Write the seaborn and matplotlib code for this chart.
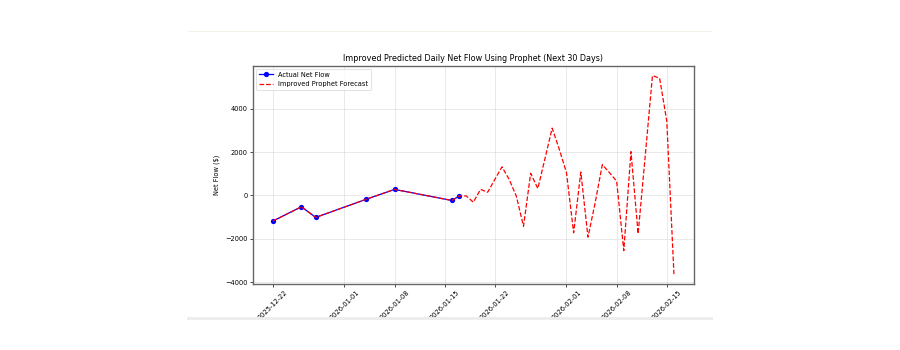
import matplotlib
matplotlib.use("Agg")
import matplotlib.pyplot as plt
import matplotlib.patches as mpatches
import matplotlib.lines as mlines
import seaborn as sns
import pandas as pd

# ---- data ----
actual_dates = ["2025-12-22", "2025-12-26", "2025-12-28", "2026-01-04",
                "2026-01-08", "2026-01-16", "2026-01-17"]
actual_values = [-1180, -520, -1010, -180, 280, -230, -30]

future_dates = pd.date_range("2026-01-18", periods=30, freq="D").strftime("%Y-%m-%d").tolist()
future_values = [-20, -310, 280, 150, 740, 1320, 740, -30, -1420, 1020,
                 320, 1700, 3100, 2120, 1050, -1720, 1080, -1920, -340, 1420,
                 1050, 660, -2540, 2020, -1760, 1850, 5520, 5400, 3430, -3620]

forecast_dates = actual_dates + future_dates
forecast_values = actual_values + future_values

title = "Improved Predicted Daily Net Flow Using Prophet (Next 30 Days)"
ylabel = "Net Flow ($)"
label_actual = "Actual Net Flow"
label_forecast = "Improved Prophet Forecast"

df_actual = pd.DataFrame({"ds": pd.to_datetime(actual_dates), "y": actual_values})
df_fc = pd.DataFrame({"ds": pd.to_datetime(forecast_dates), "yhat": forecast_values})

# ---- figure ----
fig = plt.figure(figsize=(9, 3.5), dpi=100)
ax = fig.add_axes([252.7 / 900, 1 - 284 / 350, (694 - 252.7) / 900, (284 - 65.7) / 350])

fs = 4.75
sns.lineplot(data=df_actual, x="ds", y="y", ax=ax, color="blue", marker="o",
             markersize=3.8, markeredgewidth=0, linewidth=0.9, label=label_actual)
sns.lineplot(data=df_fc, x="ds", y="yhat", ax=ax, color="red", linestyle="--",
             linewidth=0.9, label=label_forecast)

ax.set_title(title, fontsize=5.75, pad=3.5)
ax.set_xlabel("")
ax.set_ylabel(ylabel, fontsize=fs, labelpad=4)
ax.grid(True, alpha=0.3, linewidth=0.6)
ax.tick_params(axis="both", labelsize=fs, length=2, width=0.5, pad=1.5)
plt.setp(ax.get_xticklabels(), rotation=45)
for s in ax.spines.values():
    s.set_color("#666666")
    s.set_linewidth(1.0)

leg = ax.legend(loc="upper left", fontsize=fs, frameon=True, handlelength=2.2,
                borderpad=0.4, labelspacing=0.5, handletextpad=0.8)
leg.get_frame().set_linewidth(0.5)

# page chrome: faint top rule, bottom bar hiding label ends
fig.add_artist(mpatches.Rectangle((0, 0), 1, (350 - 318) / 350, transform=fig.transFigure,
                                  facecolor="white", edgecolor="none", zorder=5))
fig.add_artist(mlines.Line2D([188 / 900, 711 / 900], [1 - 318 / 350, 1 - 318 / 350],
                             transform=fig.transFigure, color="#ececec", linewidth=2, zorder=6))
fig.add_artist(mlines.Line2D([188 / 900, 711 / 900], [1 - 31 / 350, 1 - 31 / 350],
                             transform=fig.transFigure, color="#f3f3ea", linewidth=0.8, zorder=6))

fig.savefig("out.png", dpi=100)
